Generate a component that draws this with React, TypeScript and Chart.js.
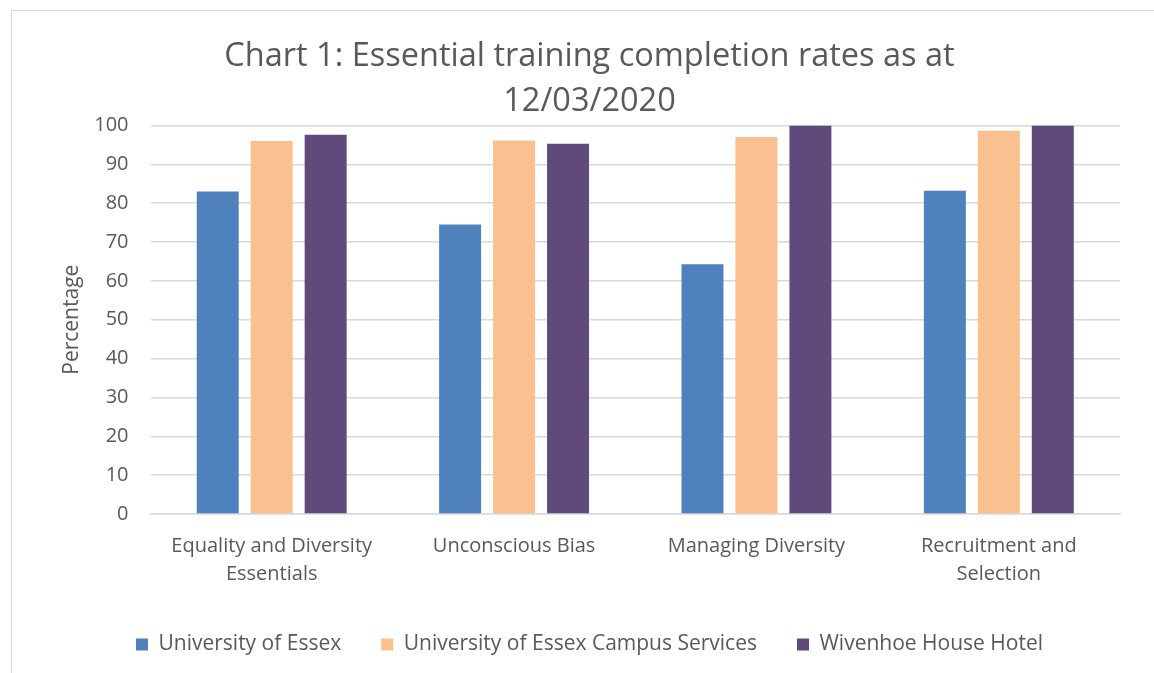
import React, { useEffect, useRef } from "react";
import { Chart, registerables } from "chart.js";

Chart.register(...registerables);

const categories = [
  ["Equality and Diversity", "Essentials"],
  "Unconscious Bias",
  "Managing Diversity",
  ["Recruitment and", "Selection"],
];
const seriesNames = [
  "University of Essex",
  "University of Essex Campus Services",
  "Wivenhoe House Hotel",
];
const universityOfEssex = [83.0, 74.5, 64.3, 83.2];
const campusServices = [96.0, 96.1, 97.0, 98.6];
const wivenhoeHouseHotel = [97.6, 95.3, 100, 100];
const seriesColors = ["#4f81bd", "#fac090", "#604a7b"];
const titleLines = ["Chart 1: Essential training completion rates as at", "12/03/2020"];

const FONT = "'Open Sans', 'Noto Sans', sans-serif";

export default function App() {
  const ref = useRef<HTMLCanvasElement | null>(null);
  useEffect(() => {
    if (!ref.current) return;
    const values = [universityOfEssex, campusServices, wivenhoeHouseHotel];
    const chart = new Chart(ref.current, {
      type: "bar",
      data: {
        labels: categories as any,
        datasets: seriesNames.map((name, i) => ({
          label: name,
          data: values[i],
          backgroundColor: seriesColors[i],
          borderWidth: 0,
          categoryPercentage: 0.668,
          barPercentage: 0.778,
        })),
      },
      options: {
        animation: false,
        responsive: false,
        maintainAspectRatio: false,
        layout: { padding: { left: 59, right: 34, top: 10, bottom: 8 } },
        plugins: {
          title: {
            display: true,
            text: titleLines,
            color: "#595959",
            font: { family: FONT, size: 32.5, weight: "normal", lineHeight: 1.36 },
            padding: { top: 25, bottom: 2 },
          },
          legend: {
            position: "bottom",
            labels: {
              color: "#595959",
              font: { family: FONT, size: 21 },
              boxWidth: 12,
              boxHeight: 12,
              padding: 40,
            },
          },
          tooltip: { enabled: false },
        },
        scales: {
          x: {
            grid: { display: false, drawTicks: false },
            border: { color: "#d9d9d9", width: 1.5 },
            ticks: {
              color: "#595959",
              font: { family: FONT, size: 20, lineHeight: 1.4 },
              padding: 18,
              maxRotation: 0,
            },
            afterFit: (scale: any) => {
              scale.height -= 12;
            },
          },
          y: {
            min: 0,
            max: 100,
            grid: { color: "#d9d9d9", lineWidth: 1.5, drawTicks: false },
            border: { display: false },
            ticks: {
              stepSize: 10,
              color: "#595959",
              font: { family: FONT, size: 20 },
              padding: 22,
            },
            title: {
              display: true,
              text: "Percentage",
              color: "#595959",
              font: { family: FONT, size: 21 },
              padding: { top: 0, bottom: -12 },
            },
          },
        },
      },
    });
    return () => chart.destroy();
  }, []);

  return (
    <div
      style={{
        position: "fixed",
        left: 0,
        top: 0,
        width: 1154,
        height: 673,
        overflow: "hidden",
        background: "#fff",
      }}
    >
      <div
        style={{
          position: "absolute",
          left: 11,
          top: 10,
          width: 1160,
          height: 680,
          border: "1px solid #d9d9d9",
        }}
      />
      <canvas ref={ref} width={1154} height={673} style={{ position: "absolute", left: 0, top: 0 }} />
    </div>
  );
}
